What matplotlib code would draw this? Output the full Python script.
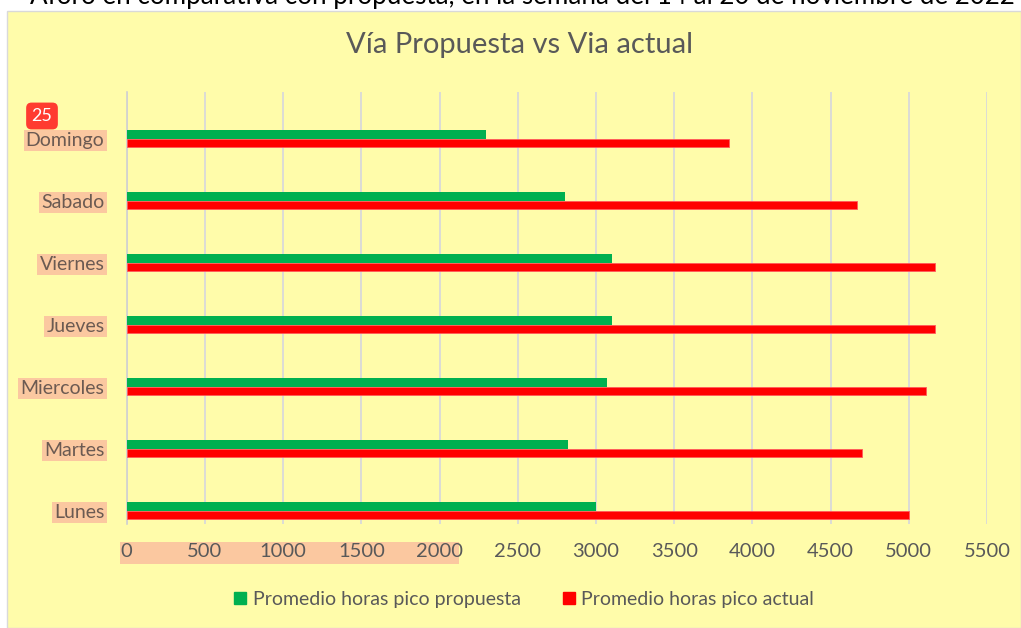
import numpy as np
import matplotlib.pyplot as plt
from matplotlib.patches import Rectangle
from matplotlib.lines import Line2D

dias = ['Lunes', 'Martes', 'Miercoles', 'Jueves', 'Viernes', 'Sabado', 'Domingo']
propuesta = [3000, 2820, 3070, 3100, 3100, 2800, 2300]
actual = [5000, 4700, 5110, 5170, 5170, 4670, 3850]
xticks = [0, 500, 1000, 1500, 2000, 2500, 3000, 3500, 4000, 4500, 5000, 5500]

W, H = 1021, 628
fondo = '#fffcaa'
gris = '#595959'
resalte = '#fbc8a0'
plt.rcParams['font.family'] = ['Lato', 'DejaVu Sans']

fig = plt.figure(figsize=(W / 100, H / 100), dpi=100)
fig.patch.set_facecolor('white')


def px(x0, y0, x1, y1):
    # pixel box (top-left origin) -> figure fraction rect
    return [x0 / W, 1 - y1 / H, (x1 - x0) / W, (y1 - y0) / H]


# chart area
r = px(7, 11, W, H)
fig.patches.append(Rectangle((r[0], r[1]), r[2], r[3], transform=fig.transFigure,
                             facecolor=fondo, edgecolor='#d9d9d9', lw=1, zorder=0))
# highlight behind the first x tick labels
r = px(120, 542, 459, 564)
fig.patches.append(Rectangle((r[0], r[1]), r[2], r[3], transform=fig.transFigure,
                             facecolor=resalte, edgecolor='none', zorder=1))

# heading from the page, cut at the top edge
fig.text(30 / W, 1 - 4 / H, 'Aforo en comparativa con propuesta, en la semana del 14 al 20 de noviembre de 2022',
         fontsize=18.7, color='black', ha='left', va='baseline')

ax = fig.add_axes(px(126.7, 92, 987, 524))
ax.set_facecolor('none')
ax.set_zorder(2)

y = np.arange(len(dias))
h = 0.135
ax.barh(y + h / 2, propuesta, height=h, color='#00b050', zorder=3)
ax.barh(y - h / 2, actual, height=h, color='#ff0000', edgecolor='#ff5a5a', lw=0.6, zorder=3)

ax.set_xlim(0, 5500)
ax.set_ylim(-0.215, 6.753)
ax.set_xticks(xticks)
ax.set_xticklabels([str(t) for t in xticks])
ax.set_yticks(y)
ax.set_yticklabels(dias)
ax.grid(axis='x', color='#d9d9d9', lw=1.3, zorder=0)
ax.tick_params(axis='x', length=0, pad=14, labelsize=14.5, labelcolor=gris)
ax.tick_params(axis='y', length=0, pad=16, labelsize=14, labelcolor='#6b5a52')
for lab in ax.get_yticklabels():
    lab.set_bbox(dict(facecolor=resalte, edgecolor='none', pad=1.5))
for s in ['top', 'right', 'bottom']:
    ax.spines[s].set_visible(False)
ax.spines['left'].set_color('#d0d0d0')
ax.spines['left'].set_linewidth(1.2)

fig.text(520 / W, 1 - 45 / H, 'Vía Propuesta vs Via actual', fontsize=21,
         color=gris, ha='center', va='center')

handles = [Line2D([], [], marker='s', ls='none', color='#00b050', markersize=8),
           Line2D([], [], marker='s', ls='none', color='#ff0000', markersize=8)]
fig.legend(handles, ['Promedio horas pico propuesta', 'Promedio horas pico actual'],
           loc='center', bbox_to_anchor=(523 / W, 1 - 599 / H), ncol=2, frameon=False,
           fontsize=14, labelcolor=gris, handletextpad=0.2, columnspacing=2.0,
           handlelength=0.9)

# page badge
fig.text(42 / W, 1 - 116 / H, '25', fontsize=13, color='white', ha='center', va='center',
         bbox=dict(boxstyle='round,pad=0.3,rounding_size=0.3', facecolor='#ff3b30', edgecolor='none'))

fig.savefig('out.png', dpi=100)
